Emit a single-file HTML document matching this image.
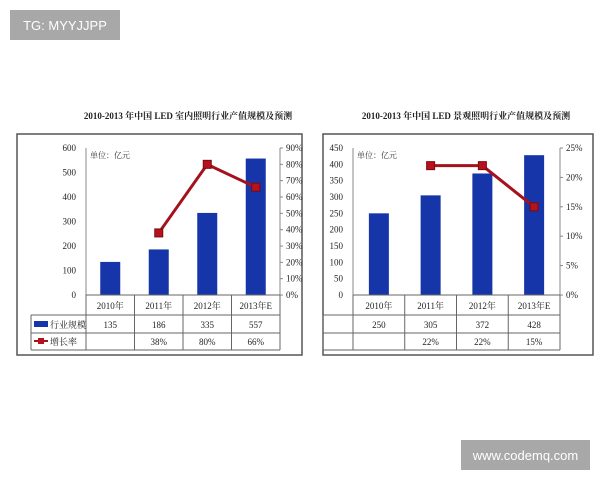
<!DOCTYPE html>
<html><head><meta charset="utf-8"><style>
body{margin:0;width:600px;height:480px;background:#fff;overflow:hidden;font-family:"Liberation Serif","Noto Serif CJK SC",serif}
svg{position:absolute;left:0;top:0}
.wm{position:absolute;background:#a8a8a8;color:#fff;font-family:"Liberation Sans",sans-serif;font-size:13px;display:flex;align-items:center;justify-content:center}
</style></head><body>
<svg id="s" width="600" height="480"></svg>
<div class="wm" style="left:10px;top:10px;width:110px;height:30px">TG: MYYJJPP</div>
<div class="wm" style="left:461px;top:440px;width:129px;height:30px">www.codemq.com</div>
<script>
const categories1=["2010年","2011年","2012年","2013年E"];
const bars1=[135,186,335,557];
const rate1=[null,38,80,66];
const barLabels1=["135","186","335","557"];
const rateLabels1=["","38%","80%","66%"];
const leftTicks1=[0,100,200,300,400,500,600];
const rightTicks1=[0,10,20,30,40,50,60,70,80,90];
const categories2=["2010年","2011年","2012年","2013年E"];
const bars2=[250,305,372,428];
const rate2=[null,22,22,15];
const barLabels2=["250","305","372","428"];
const rateLabels2=["","22%","22%","15%"];
const leftTicks2=[0,50,100,150,200,250,300,350,400,450];
const rightTicks2=[0,5,10,15,20,25];
const NS="http://www.w3.org/2000/svg";
const svg=document.getElementById('s');
function mk(t,a,txt){const e=document.createElementNS(NS,t);for(const k in a)e.setAttribute(k,a[k]);if(txt!=null)e.textContent=txt;svg.appendChild(e);return e;}
function chart(o){
 const p=o.p;
 let e=mk('text',{x:o.tc,y:119,'font-size':9,'font-weight':'bold','text-anchor':'middle',fill:'#222'},o.title);
 
 e=mk('rect',{x:o.bx,y:134,width:o.bw,height:221,fill:'none',stroke:'#555','stroke-width':1.5});
 
 const x0=o.x0,x1=o.x1,y0=295,y1=148,n=o.cats.length,cw=(x1-x0)/n;
 const yL=v=>y0-(v/o.lmax)*(y0-y1), yR=v=>y0-(v/o.rmax)*(y0-y1), xc=i=>x0+cw*(i+.5);
 mk('line',{x1:x0,y1:y1,x2:x0,y2:y0,stroke:'#888'});
 mk('line',{x1:x1,y1:y1,x2:x1,y2:y0,stroke:'#888'});
 o.lt.forEach(v=>{e=mk('text',{x:x0-10,y:yL(v)+3,'font-size':9,'text-anchor':'end',fill:'#222'},v);
  });
 o.rt.forEach(v=>{mk('line',{x1:x1,y1:yR(v),x2:x1+3,y2:yR(v),stroke:'#888'});
  e=mk('text',{x:x1+6,y:yR(v)+3,'font-size':9,fill:'#222'},v+'%');
  });
 e=mk('text',{x:x0+4,y:158,'font-size':8,fill:'#333'},'单位：亿元');
 
 o.bars.forEach((v,i)=>{e=mk('rect',{x:xc(i)-10,y:yL(v),width:20,height:y0-yL(v),fill:'#1535a8'});
  });
 const pts=[];o.rate.forEach((v,i)=>{if(v!=null)pts.push([xc(i),yR(v)]);});
 e=mk('polyline',{points:pts.map(q=>q.join(',')).join(' '),fill:'none',stroke:'#a5121e','stroke-width':3});
 
 pts.forEach(q=>{e=mk('rect',{x:q[0]-4,y:q[1]-4,width:8,height:8,fill:'#b5121e',stroke:'#7a0a10'});
  });
 const tl=o.tl;
 mk('line',{x1:x0,y1:y0,x2:x1,y2:y0,stroke:'#666'});
 mk('line',{x1:tl,y1:315,x2:x1,y2:315,stroke:'#666'});
 mk('line',{x1:tl,y1:333,x2:x1,y2:333,stroke:'#666'});
 mk('line',{x1:tl,y1:350,x2:x1,y2:350,stroke:'#666'});
 mk('line',{x1:tl,y1:315,x2:tl,y2:350,stroke:'#666'});
 for(let i=0;i<=n;i++)mk('line',{x1:x0+cw*i,y1:295,x2:x0+cw*i,y2:350,stroke:'#666'});
 o.cats.forEach((c,i)=>{
  e=mk('text',{x:xc(i),y:309,'font-size':9,'text-anchor':'middle',fill:'#222'},c);
  
  e=mk('text',{x:xc(i),y:328,'font-size':9,'text-anchor':'middle',fill:'#222'},o.bl[i]);
  
  e=mk('text',{x:xc(i),y:345,'font-size':9,'text-anchor':'middle',fill:'#222'},o.rl[i]);
  
 });
 if(o.legend){
  e=mk('rect',{x:tl+3,y:321,width:14,height:6,fill:'#1535a8'});
  
  mk('text',{x:tl+19,y:328,'font-size':9,fill:'#222'},'行业规模');
  mk('line',{x1:tl+3,y1:341,x2:tl+17,y2:341,stroke:'#a5121e','stroke-width':2});
  e=mk('rect',{x:tl+7,y:338,width:6,height:6,fill:'#b5121e'});
  
  mk('text',{x:tl+19,y:345,'font-size':9,fill:'#222'},'增长率');
 }
}
chart({p:'indoor',title:'2010-2013 年中国 LED 室内照明行业产值规模及预测',tc:188,bx:17,bw:285,x0:86,x1:280,tl:31,
 cats:categories1,bars:bars1,rate:rate1,bl:barLabels1,rl:rateLabels1,lt:leftTicks1,rt:rightTicks1,lmax:600,rmax:90,legend:true});
chart({p:'landscape',title:'2010-2013 年中国 LED 景观照明行业产值规模及预测',tc:466,bx:323,bw:270,x0:353,x1:560,tl:323,
 cats:categories2,bars:bars2,rate:rate2,bl:barLabels2,rl:rateLabels2,lt:leftTicks2,rt:rightTicks2,lmax:450,rmax:25,legend:false});
</script>
</body></html>
